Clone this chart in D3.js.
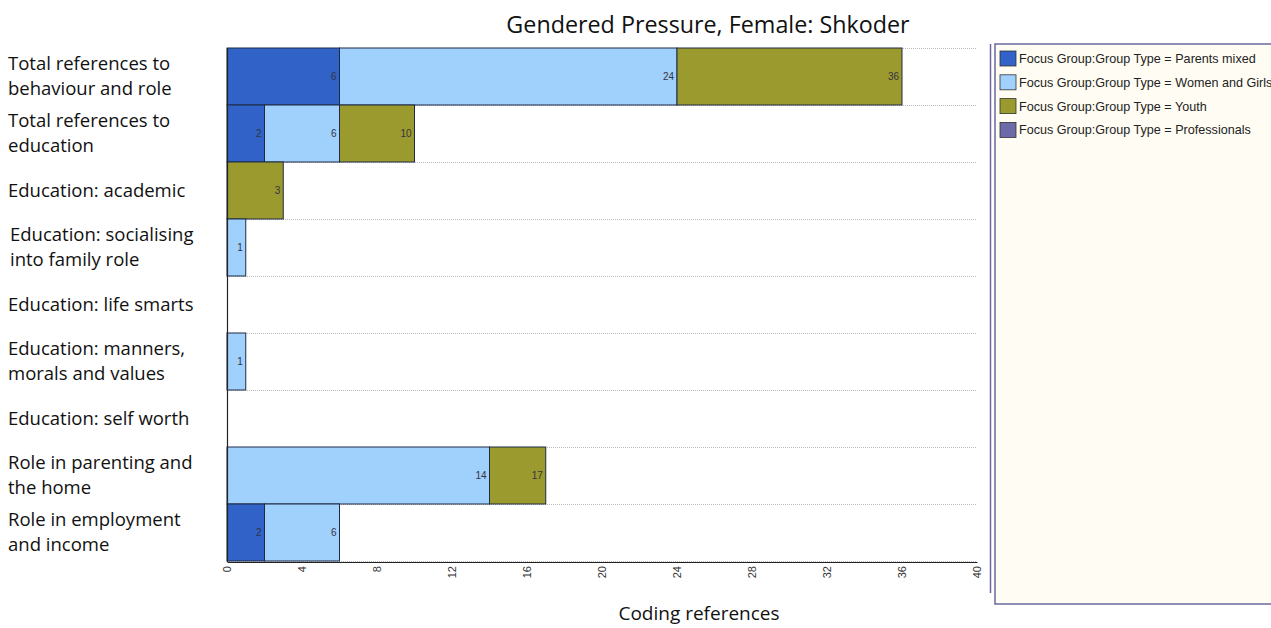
<!DOCTYPE html>
<html><head><meta charset="utf-8">
<script src="https://cdn.jsdelivr.net/npm/d3@7"></script>
<style>body{margin:0;background:#fff;overflow:hidden}</style>
</head><body>
<svg id="c" width="1271" height="628"></svg>
<script>
const categories = [
  ["Total references to","behaviour and role"],
  ["Total references to","education"],
  ["Education: academic"],
  ["Education: socialising","into family role"],
  ["Education: life smarts"],
  ["Education: manners,","morals and values"],
  ["Education: self worth"],
  ["Role in parenting and","the home"],
  ["Role in employment","and income"]
];
const seriesNames = ["Focus Group:Group Type = Parents mixed","Focus Group:Group Type = Women and Girls","Focus Group:Group Type = Youth","Focus Group:Group Type = Professionals"];
const parentsMixed = [6,2,0,0,0,0,0,0,2];
const womenAndGirls = [18,4,0,1,0,1,0,14,4];
const youth = [12,4,3,0,0,0,0,3,0];
const professionals = [0,0,0,0,0,0,0,0,0];
const xTicks = [0,4,8,12,16,20,24,28,32,36,40];
const colors = ["#3062c8","#a0d0fc","#9b9a2e","#6c6aa8"];

const svg = d3.select("#c");
const L=227, R=977, T=48, B=561;
const x = d3.scaleLinear().domain([0,40]).range([L,R]);
const y = d3.scaleBand().domain(d3.range(categories.length)).range([T,B]).padding(0);
const series = [parentsMixed, womenAndGirls, youth, professionals];

svg.append("text").attr("x",708).attr("y",33).attr("text-anchor","middle")
  .attr("font-family","Open Sans").attr("font-size",23.3).attr("fill","#111")
  .text("Gendered Pressure, Female: Shkoder");

// dotted gridlines at band boundaries
const bounds = d3.range(categories.length+1).map(i=> i<categories.length ? y(i) : B);
bounds.forEach((b,i)=>{
  svg.append("line").attr("x1",L).attr("x2",R).attr("y1",b+0.5).attr("y2",b+0.5)
    .attr("stroke","#bbb").attr("stroke-dasharray","1,1").attr("stroke-width",1);
});

// stacked bars
categories.forEach((c,i)=>{
  let acc=0;
  series.forEach((s,j)=>{
    const v=s[i]; if(!v) return;
    const x0=x(acc), x1=x(acc+v); acc+=v;
    svg.append("rect").attr("x",x0).attr("y",y(i)).attr("width",x1-x0).attr("height",y.bandwidth())
      .attr("fill",colors[j]).attr("stroke","#1e2a44").attr("stroke-width",1);
    svg.append("text").attr("x",x1-3).attr("y",y(i)+y.bandwidth()/2+3.5).attr("text-anchor","end")
      .attr("font-family","Arial, Liberation Sans").attr("font-size",10).attr("fill","#334")
      .text(acc);
  });
});

// axes
svg.append("line").attr("x1",L+0.5).attr("x2",L+0.5).attr("y1",T).attr("y2",B+1).attr("stroke","#222").attr("stroke-width",1.2);
const xa = svg.append("g").attr("transform",`translate(0,${B+1})`)
  .call(d3.axisBottom(x).tickValues(xTicks).tickSize(0).tickPadding(0));
xa.select(".domain").attr("stroke","#222").attr("stroke-width",1.2);
xa.selectAll("text").attr("font-family","Arial, Liberation Sans").attr("font-size",11).attr("fill","#333")
  .attr("transform","rotate(-90)").attr("text-anchor","end").attr("dy","0.35em").attr("x",-4).attr("y",0);

// category labels
categories.forEach((c,i)=>{
  const cy=y(i)+y.bandwidth()/2;
  const n=c.length;
  c.forEach((t,k)=>{
    svg.append("text").attr("x",i===3?10:8).attr("y",cy+(k-(n-1)/2)*25+6)
      .attr("font-family","Open Sans").attr("font-size",18.5).attr("fill","#111").text(t);
  });
});

svg.append("text").attr("x",699).attr("y",620).attr("text-anchor","middle")
  .attr("font-family","Open Sans").attr("font-size",19).attr("fill","#111").text("Coding references");

// legend
svg.append("line").attr("x1",990.5).attr("x2",990.5).attr("y1",44).attr("y2",593).attr("stroke","#6a68a0").attr("stroke-width",1.5);
svg.append("rect").attr("x",995).attr("y",44).attr("width",290).attr("height",560)
  .attr("fill","#fffcf4").attr("stroke","#6a68a0").attr("stroke-width",1.5);
seriesNames.forEach((n,j)=>{
  const ly=51+j*23.8;
  svg.append("rect").attr("x",1000).attr("y",ly).attr("width",16).attr("height",15)
    .attr("fill",colors[j]).attr("stroke","#333").attr("stroke-width",0.8);
  svg.append("text").attr("x",1019).attr("y",ly+12).attr("font-family","Arial, Liberation Sans")
    .attr("font-size",12.6).attr("fill","#222").text(n);
});
</script>
</body></html>
